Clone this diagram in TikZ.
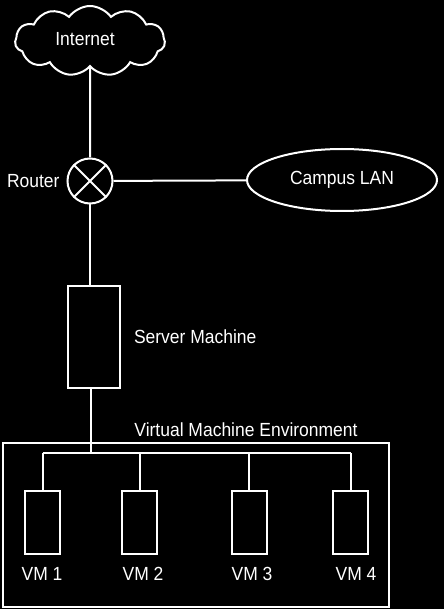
\documentclass[tikz,border=0pt]{standalone}
\usepackage{fontspec}
\setmainfont[FakeStretch=0.92]{Liberation Sans}
\usetikzlibrary{shapes.geometric,shapes.symbols,positioning}
\tikzset{
  vmbox/.style={draw,minimum width=35pt,minimum height=63pt,inner sep=0pt},
  tag/.style={inner sep=1pt}
}
\begin{document}
\begin{tikzpicture}[x=1pt,y=-1pt,line width=2pt,color=white,font=\fontsize{19}{22}\selectfont]
	%background
	\fill[black] (0,0) rectangle (444,609);
	\useasboundingbox (0,0) rectangle (444,609);

	%internet and router
	\node[cloud,draw,cloud puffs=11,cloud puff arc=110,aspect=2.1,minimum width=150pt,minimum height=70pt,inner sep=0pt] (internet) at (90,41) {}; %cloud
	\node[tag] (internetlabel) at (85,39) {Internet};
	\node[circle,draw,minimum size=45pt,inner sep=0pt] (router) at (90,181) {}; %router
	\draw (router.north west) -- (router.south east) (router.north east) -- (router.south west); %cross
	\node[tag,left=5pt of router] (routerlabel) {Router};
	\draw (internet.south) -- (router.north);

	%campus
	\node[ellipse,draw,minimum width=190pt,minimum height=62pt] (lan) at (342,180) {Campus LAN};
	\draw (router) -- (lan);

	%server
	\node[draw,minimum width=52pt,minimum height=102pt,inner sep=0pt] (server) at (94,337) {};
	\node[tag,right=11pt of server] (serverlabel) {Server Machine};
	\draw (router.south) -- (router.south |- server.north);

	%vm environment
	\node[draw,minimum width=386pt,minimum height=164pt,inner sep=0pt] (env) at (196,525) {};
	\node[tag] (envlabel) at (246,430) {Virtual Machine Environment};
	\coordinate (bus) at (91,453);
	\draw (server.south -| bus) -- (bus); %uplink

	%vms
	\foreach \i/\x/\lx in {1/42.5/42,2/139.5/143,3/249/252,4/350.5/356}{
		\node[vmbox] (vm\i) at (\x,522.5) {};
		\node[tag] (vmlabel\i) at (\lx,574) {VM \i};
		\draw (vm\i.north) -- (vm\i.north |- bus);
	}
	\draw (vm1.north |- bus) -- (vm4.north |- bus); %bus
\end{tikzpicture}
\end{document}
